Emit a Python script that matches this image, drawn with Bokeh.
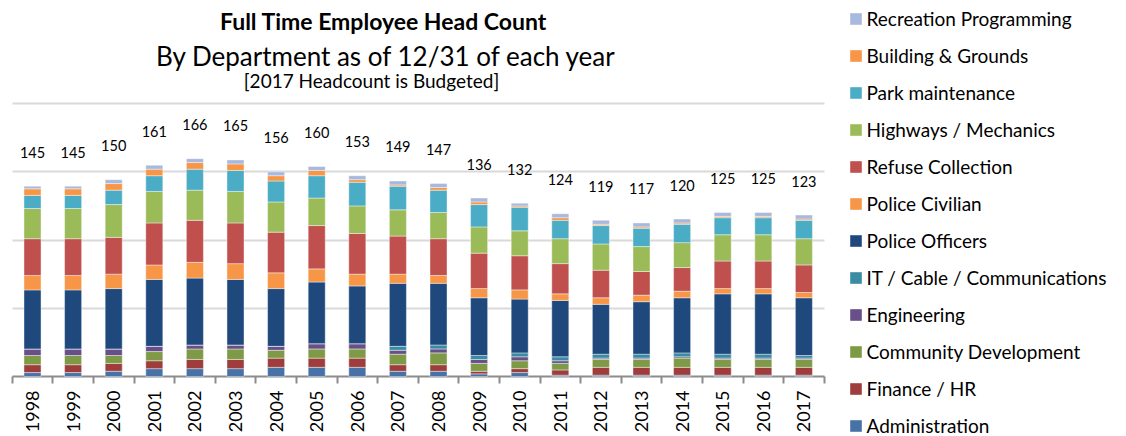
from math import pi
from bokeh.plotting import figure
from bokeh.models import (ColumnDataSource, FixedTicker, Legend, LegendItem,
                          Label, LabelSet, Grid)
from bokeh.core.properties import value
from bokeh.embed import file_html
from bokeh.resources import INLINE

# ---------------- data ----------------
years = ["1998", "1999", "2000", "2001", "2002", "2003", "2004", "2005", "2006", "2007",
         "2008", "2009", "2010", "2011", "2012", "2013", "2014", "2015", "2016", "2017"]
totals = [145, 145, 150, 161, 166, 165, 156, 160, 153, 149,
          147, 136, 132, 124, 119, 117, 120, 125, 125, 123]

departments = ["Administration", "Finance / HR", "Community Development", "Engineering",
               "IT / Cable / Communications", "Police Officers", "Police Civilian",
               "Refuse Collection", "Highways / Mechanics", "Park maintenance",
               "Building & Grounds", "Recreation Programming"]

administration = [3, 3, 4, 6, 6, 6, 7, 7, 7, 4, 4, 2, 3, 1, 1, 1, 1, 1, 1, 1]
finance_hr = [6, 6, 6, 6, 7, 7, 7, 7, 7, 5, 5, 2, 3, 4, 6, 6, 6, 6, 6, 6]
community_development = [7, 7, 6, 7, 8, 8, 6, 7, 7, 8, 9, 6, 6, 5, 6, 6, 7, 6, 6, 6]
engineering = [5, 5, 5, 4, 3, 3, 3, 4, 4, 3, 3, 3, 3, 2, 1, 1, 1, 1, 1, 1]
it_cable_comm = [0, 0, 0, 0, 0, 0, 0, 0, 0, 3, 3, 3, 3, 3, 3, 3, 3, 3, 3, 2]
police_officers = [45, 45, 46, 51, 51, 50, 44, 47, 44, 48, 47, 44, 41, 43, 38, 40, 42, 46, 46, 44]
police_civilian = [11, 11, 11, 11, 12, 12, 12, 10, 9, 7, 6, 7, 7, 5, 5, 5, 5, 4, 4, 4]
refuse_collection = [28, 28, 28, 32, 32, 31, 31, 33, 31, 29, 28, 27, 26, 23, 21, 18, 18, 21, 21, 21]
highways_mechanics = [23, 23, 25, 24, 23, 24, 23, 21, 21, 20, 20, 20, 19, 19, 20, 19, 19, 20, 20, 20]
park_maintenance = [10, 10, 11, 12, 16, 16, 16, 17, 18, 18, 17, 17, 18, 14, 14, 14, 14, 13, 13, 14]
building_grounds = [5, 5, 5, 5, 5, 5, 4, 4, 2, 1, 2, 2, 1, 2, 1, 1, 1, 1, 1, 1]
recreation_programming = [2, 2, 3, 3, 3, 3, 3, 3, 3, 3, 3, 3, 2, 3, 3, 3, 3, 3, 3, 3]

series = [administration, finance_hr, community_development, engineering, it_cable_comm,
          police_officers, police_civilian, refuse_collection, highways_mechanics,
          park_maintenance, building_grounds, recreation_programming]

colors = ["#4672A8", "#9E3D3B", "#7E9A46", "#684F88", "#3A8CA3", "#1F497D",
          "#F79646", "#C0504D", "#9BBB59", "#4BACC6", "#F79646", "#A7B9DC"]

FONT = "Lato"

# ---------------- geometry (pixels) ----------------
W, H = 1126, 436
PLOT_LEFT, PLOT_RIGHT = 11.7, 823.7      # plot area in canvas px
PLOT_TOP, PLOT_BOTTOM = 103.0, 376.0
Y_TOP = 208.0                            # value at top gridline
n = len(years)
px_x = (PLOT_RIGHT - PLOT_LEFT) / n
px_y = (PLOT_BOTTOM - PLOT_TOP) / Y_TOP
x_start = -0.5 - PLOT_LEFT / px_x
x_end = -0.5 + (W - PLOT_LEFT) / px_x
y_start = -(H - PLOT_BOTTOM) / px_y
y_end = Y_TOP + PLOT_TOP / px_y

# ---------------- sources ----------------
xs = list(range(n))
keys = ["s%d" % i for i in range(len(departments))]
data = {"x": xs}
for k, s in zip(keys, series):
    data[k] = s
source = ColumnDataSource(data)

tot_src = ColumnDataSource(dict(x=xs, y=totals, t=[str(v) for v in totals]))
yr_src = ColumnDataSource(dict(x=xs, y=[0] * n, t=years))

# ---------------- figure ----------------
p = figure(width=W, height=H, x_range=(x_start, x_end), y_range=(y_start, y_end),
           output_backend="svg", toolbar_location=None,
           min_border_left=0, min_border_right=0, min_border_top=0, min_border_bottom=0)
p.outline_line_color = None
p.background_fill_color = "white"
p.border_fill_color = "white"
p.xaxis.visible = False
p.yaxis.visible = False

# gridlines
p.ygrid.ticker = FixedTicker(ticks=[Y_TOP / 4 * k for k in range(1, 5)])
p.ygrid.grid_line_color = "#D9D9D9"
p.ygrid.grid_line_width = 2
p.ygrid.cross_bounds = (-0.5, n - 0.5)

# category tick marks (between bars), hanging below the baseline
p.xgrid.ticker = FixedTicker(ticks=[i - 0.5 for i in range(n + 1)])
p.xgrid.grid_line_color = "#8C8C8C"
p.xgrid.grid_line_width = 2
p.xgrid.cross_bounds = (-7 / px_y, 0)

renderers = p.vbar_stack(keys, x="x", width=0.42, color=colors, source=source,
                         line_color="white", line_width=0.6, line_alpha=0.7)

# baseline (category axis line)
p.add_layout(Grid(dimension=1, ticker=FixedTicker(ticks=[0]), grid_line_color="#8C8C8C",
                  grid_line_width=2, cross_bounds=(-0.5, n - 0.5)))

# year labels
p.add_layout(LabelSet(x="x", y="y", text="t", source=yr_src, y_offset=-14, angle=pi / 2,
                      text_align="right", text_baseline="middle",
                      text_font=value(FONT), text_font_size="18px", text_color="#000000"))

# total labels
p.add_layout(LabelSet(x="x", y="y", text="t", source=tot_src, y_offset=34,
                      text_align="center", text_baseline="middle",
                      text_font=value(FONT), text_font_size="14.5px", text_color="#000000"))

# titles
p.add_layout(Label(x=383, y=H - 20, x_units="screen", y_units="screen",
                   text="Full Time Employee Head Count", text_align="center",
                   text_baseline="middle", text_font=FONT, text_font_size="23px",
                   text_font_style="bold", text_color="#000000"))
p.add_layout(Label(x=386, y=H - 55, x_units="screen", y_units="screen",
                   text="By Department as of 12/31 of each year", text_align="center",
                   text_baseline="middle", text_font=FONT, text_font_size="26px",
                   text_color="#000000"))
p.add_layout(Label(x=371, y=H - 80, x_units="screen", y_units="screen",
                   text="[2017 Headcount is Budgeted]", text_align="center",
                   text_baseline="middle", text_font=FONT, text_font_size="19px",
                   text_color="#000000"))

# legend
items = [LegendItem(label=name, renderers=[r]) for name, r in zip(departments, renderers)]
items.reverse()
LEG_ROWS = len(items)
ITEM_H, ITEM_GAP = 23, 14
leg_h = LEG_ROWS * ITEM_H + (LEG_ROWS - 1) * ITEM_GAP
leg_top = 18 - ITEM_H / 2
legend = Legend(items=items, location=(847.5, H - leg_top - leg_h), orientation="vertical",
                glyph_width=15, glyph_height=15, label_height=ITEM_H, spacing=ITEM_GAP,
                padding=0, margin=0, border_line_color=None, background_fill_alpha=0,
                label_text_font=FONT, label_text_font_size="19px",
                label_text_color="#000000", label_standoff=4)
p.add_layout(legend, "center")

open("out.html", "w").write(file_html(p, INLINE))
